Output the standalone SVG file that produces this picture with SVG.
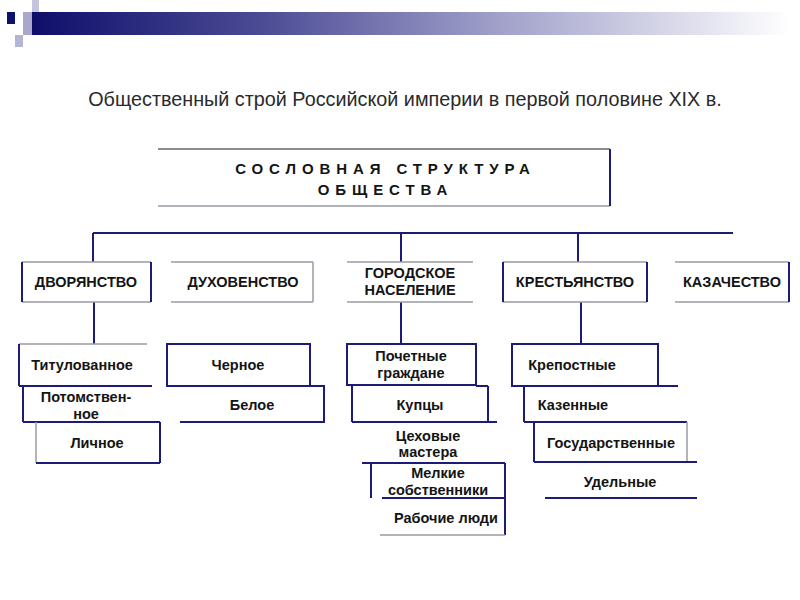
<svg xmlns="http://www.w3.org/2000/svg" width="800" height="600" viewBox="0 0 800 600">
<defs>
<linearGradient id="bar" x1="0" y1="0" x2="1" y2="0">
<stop offset="0" stop-color="#0e0e6a"/>
<stop offset="0.3" stop-color="#4a4a94"/>
<stop offset="0.6" stop-color="#9c9cc8"/>
<stop offset="1" stop-color="#ffffff"/>
</linearGradient>
<style>
.n{stroke:#1c1c78;stroke-width:2;fill:none}
.g{stroke:#9a9aa6;stroke-width:1.5;fill:none}
.t{font-family:"Liberation Sans",Arial,sans-serif;font-weight:bold;font-size:14.5px;fill:#141414;text-anchor:middle}
.s{font-family:"Liberation Sans",Arial,sans-serif;font-weight:bold;font-size:15px;fill:#141414;text-anchor:middle;letter-spacing:5.9px}
</style>
</defs>
<rect width="800" height="600" fill="#ffffff"/>
<g id="header">
<rect x="30" y="12" width="760" height="23" fill="url(#bar)"/>
<rect x="7" y="12" width="8" height="12" fill="#10106e"/>
<rect x="32" y="0" width="7" height="12" fill="#c4c4dc"/>
<rect x="23" y="12" width="9" height="23" fill="#a8a8cc"/>
<rect x="15" y="35" width="8" height="12" fill="#b4b4d4"/>
</g>
<text x="405" y="106" font-family="'Liberation Sans',Arial,sans-serif" font-size="19.8" fill="#2a2a2a" text-anchor="middle">Общественный строй Российской империи в первой половине XIX в.</text>

<g id="connectors">
<line class="n" x1="93" y1="233" x2="733" y2="233"/>
<line class="n" x1="93" y1="233" x2="93" y2="262"/>
<line class="n" x1="401" y1="233" x2="401" y2="262"/>
<line class="n" x1="578" y1="233" x2="578" y2="262"/>
<line class="n" x1="94" y1="302" x2="94" y2="344"/>
<line class="n" x1="401" y1="302" x2="401" y2="343"/>
<line class="n" x1="581" y1="302" x2="581" y2="344"/>
</g>

<g id="root">
<line x1="158" y1="149" x2="610" y2="149" stroke="#666" stroke-width="1.5"/>
<line class="g" x1="158" y1="206" x2="610" y2="206"/>
<line class="n" x1="610" y1="149" x2="610" y2="206"/>
<text class="s" x="385.5" y="174">СОСЛОВНАЯ СТРУКТУРА</text>
<text class="s" x="385.5" y="195">ОБЩЕСТВА</text>
</g>

<g id="dvoryanstvo">
<line class="g" x1="22" y1="262" x2="151" y2="262"/>
<line class="g" x1="22" y1="302" x2="151" y2="302"/>
<line class="n" x1="22" y1="262" x2="22" y2="302"/>
<line class="n" x1="151" y1="262" x2="151" y2="302"/>
<text class="t" x="86" y="287">ДВОРЯНСТВО</text>
</g>
<g id="duhovenstvo">
<line class="g" x1="171" y1="262" x2="313" y2="262"/>
<line class="g" x1="171" y1="302" x2="313" y2="302"/>
<line class="g" x1="313" y1="262" x2="313" y2="302"/>
<text class="t" x="243" y="287">ДУХОВЕНСТВО</text>
</g>
<g id="gorodskoe">
<line class="g" x1="347" y1="262" x2="473" y2="262"/>
<line class="g" x1="347" y1="302" x2="473" y2="302"/>
<text class="t" x="410" y="278">ГОРОДСКОЕ</text>
<text class="t" x="410" y="295">НАСЕЛЕНИЕ</text>
</g>
<g id="krestyanstvo">
<line class="g" x1="503" y1="262" x2="647" y2="262"/>
<line class="g" x1="503" y1="302" x2="647" y2="302"/>
<line class="n" x1="503" y1="262" x2="503" y2="302"/>
<line class="n" x1="647" y1="262" x2="647" y2="302"/>
<text class="t" x="575" y="287">КРЕСТЬЯНСТВО</text>
</g>
<g id="kazachestvo">
<line class="g" x1="675" y1="262" x2="789" y2="262"/>
<line class="g" x1="675" y1="302" x2="789" y2="302"/>
<line class="n" x1="789" y1="262" x2="789" y2="302"/>
<text class="t" x="732" y="287">КАЗАЧЕСТВО</text>
</g>

<g id="titulovannoe">
<line class="g" x1="19" y1="344" x2="147" y2="344"/>
<line class="n" x1="19" y1="344" x2="19" y2="386"/>
<line class="n" x1="19" y1="386" x2="152" y2="386"/>
<text class="t" x="82" y="370">Титулованное</text>
</g>
<g id="potomstvennoe">
<line class="n" x1="23" y1="386" x2="23" y2="422"/>
<line class="n" x1="23" y1="422" x2="36" y2="422"/>
<text class="t" x="86" y="402">Потомствен-</text>
<text class="t" x="86" y="419">ное</text>
</g>
<g id="lichnoe">
<line class="n" x1="36" y1="422" x2="160" y2="422"/>
<line class="g" x1="36" y1="422" x2="36" y2="463"/>
<line class="n" x1="160" y1="422" x2="160" y2="463"/>
<line class="n" x1="36" y1="463" x2="160" y2="463"/>
<text class="t" x="97" y="448">Личное</text>
</g>

<g id="chernoe">
<rect class="n" x="167" y="344" width="143" height="42"/>
<line class="n" x1="310" y1="386" x2="325" y2="386"/>
<text class="t" x="238" y="370">Черное</text>
</g>
<g id="beloe">
<line class="n" x1="324" y1="386" x2="324" y2="422"/>
<line class="n" x1="180" y1="422" x2="325" y2="422"/>
<text class="t" x="252" y="410">Белое</text>
</g>

<g id="pochetnye">
<rect class="n" x="347" y="344" width="129" height="41"/>
<text class="t" x="411" y="361">Почетные</text>
<text class="t" x="411" y="378">граждане</text>
</g>
<g id="kuptsy">
<line class="n" x1="476" y1="386" x2="488" y2="386"/>
<line class="n" x1="352" y1="386" x2="352" y2="422"/>
<line class="n" x1="488" y1="386" x2="488" y2="422"/>
<line class="n" x1="352" y1="422" x2="497" y2="422"/>
<text class="t" x="420" y="410">Купцы</text>
</g>
<g id="tsehovye">
<text class="t" x="428" y="441">Цеховые</text>
<text class="t" x="428" y="457">мастера</text>
</g>
<g id="melkie">
<line class="n" x1="362" y1="463" x2="505" y2="463"/>
<line class="n" x1="371" y1="463" x2="371" y2="498"/>
<line class="n" x1="382" y1="498" x2="505" y2="498"/>
<line class="n" x1="505" y1="463" x2="505" y2="498"/>
<text class="t" x="438" y="478">Мелкие</text>
<text class="t" x="438" y="495">собственники</text>
</g>
<g id="rabochie">
<line class="n" x1="505" y1="498" x2="505" y2="535"/>
<line class="g" x1="380" y1="535" x2="505" y2="535"/>
<text class="t" x="446" y="523">Рабочие люди</text>
</g>

<g id="krepostnye">
<rect class="n" x="512" y="344" width="146" height="42"/>
<line class="n" x1="658" y1="386" x2="678" y2="386"/>
<text class="t" x="572" y="370">Крепостные</text>
</g>
<g id="kazennye">
<line class="n" x1="524" y1="386" x2="524" y2="422"/>
<line class="n" x1="524" y1="422" x2="687" y2="422"/>
<text class="t" x="573" y="410">Казенные</text>
</g>
<g id="gosudarstvennye">
<line class="n" x1="534" y1="422" x2="534" y2="462"/>
<line class="g" x1="687" y1="422" x2="687" y2="462"/>
<line class="n" x1="534" y1="462" x2="697" y2="462"/>
<text class="t" x="611" y="448">Государственные</text>
</g>
<g id="udelnye">
<line class="n" x1="545" y1="498" x2="697" y2="498"/>
<text class="t" x="620" y="487">Удельные</text>
</g>
</svg>
